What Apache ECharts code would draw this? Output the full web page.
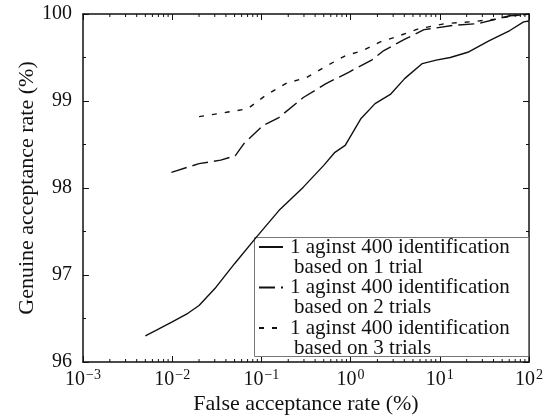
<!DOCTYPE html>
<html>
<head>
<meta charset="utf-8">
<script src="https://cdn.jsdelivr.net/npm/echarts@6/dist/echarts.min.js"></script>
<style>
  html, body { margin: 0; padding: 0; background: #fff; }
  #chart { width: 547px; height: 418px; }
</style>
</head>
<body>
<div id="chart"></div>
<script>
// false acceptance rate (%) / genuine acceptance rate (%) for each curve
const far1 = [0.005, 0.0065, 0.01, 0.015, 0.02, 0.031, 0.05, 0.087, 0.157, 0.295, 0.5, 0.667, 0.87, 1.31, 1.88, 2.82, 4.06, 6.37, 9.1, 13.1, 20.6, 35.5, 61, 87, 100];
const gar1 = [96.30, 96.36, 96.46, 96.56, 96.65, 96.86, 97.13, 97.43, 97.74, 98.01, 98.26, 98.41, 98.49, 98.80, 98.97, 99.08, 99.26, 99.43, 99.47, 99.50, 99.56, 99.69, 99.81, 99.91, 99.92];

const far2 = [0.0098, 0.02, 0.035, 0.0508, 0.0637, 0.105, 0.157, 0.295, 0.53, 0.95, 1.72, 2.36, 4.06, 6.66, 14.3, 27, 42, 61, 87, 100];
const gar2 = [98.18, 98.28, 98.32, 98.37, 98.51, 98.72, 98.81, 99.04, 99.20, 99.33, 99.47, 99.58, 99.71, 99.82, 99.87, 99.89, 99.94, 99.98, 99.99, 100];

const far3 = [0.02, 0.0405, 0.07, 0.11, 0.187, 0.32, 0.51, 0.87, 1.37, 2.15, 3.09, 5.8, 11.5, 22, 42, 67, 100];
const gar3 = [98.82, 98.87, 98.91, 99.06, 99.20, 99.27, 99.39, 99.52, 99.58, 99.68, 99.73, 99.83, 99.89, 99.91, 99.94, 99.98, 100];

const legendLine1 = '1 aginst 400 identification';
const legendLine2 = ['based on 1 trial', 'based on 2 trials', 'based on 3 trials'];
const names = legendLine2.map(s => legendLine1 + '\n' + s);

const yTicks = [96, 97, 98, 99, 100];
// log minor ticks 2..9 in every decade from 1e-3 to 1e2
const xMinor = [
    0.002, 0.003, 0.004, 0.005, 0.006, 0.007, 0.008, 0.009,
    0.02, 0.03, 0.04, 0.05, 0.06, 0.07, 0.08, 0.09,
    0.2, 0.3, 0.4, 0.5, 0.6, 0.7, 0.8, 0.9,
    2, 3, 4, 5, 6, 7, 8, 9,
    20, 30, 40, 50, 60, 70, 80, 90
];

const font = 'Liberation Serif';
const ink = '#111';

function pairs(xs, ys) {
    return xs.map((x, i) => [x, ys[i]]);
}

const chart = echarts.init(document.getElementById('chart'), null, {renderer: 'canvas'});

const tickStyle = {show: true, inside: true, length: 6, lineStyle: {color: ink, width: 1}};
const yMinor = {show: true, splitNumber: 2, length: 3, lineStyle: {color: ink, width: 1}};

let option = {
    backgroundColor: '#ffffff',
    animation: false,
    textStyle: {fontFamily: font, color: ink},
    grid: {left: 83, right: 18, top: 14, bottom: 56, outerBoundsMode: 'none'},
    xAxis: [{
        type: 'log',
        logBase: 10,
        min: 0.001,
        max: 100,
        position: 'bottom',
        name: 'False acceptance rate (%)',
        nameLocation: 'middle',
        nameGap: 31,
        nameMoveOverlap: false,
        nameTextStyle: {fontFamily: font, fontSize: 22, color: ink},
        axisLine: {lineStyle: {color: ink, width: 1.5}},
        axisTick: tickStyle,
        splitLine: {show: false},
        axisLabel: {
            margin: 6,
            fontFamily: font,
            fontSize: 20,
            color: ink,
            formatter: function (v) {
                const e = Math.round(Math.log10(v));
                return '10{sup|' + (e < 0 ? '\u2212' + (-e) : e) + '}';
            },
            rich: {sup: {fontFamily: font, fontSize: 14, color: ink, verticalAlign: 'bottom', padding: [0, 0, 9, 1]}}
        }
    }, {
        type: 'log',
        logBase: 10,
        min: 0.001,
        max: 100,
        position: 'top',
        axisLine: {lineStyle: {color: ink, width: 1.5}},
        axisTick: tickStyle,
        axisLabel: {show: false},
        splitLine: {show: false}
    }],
    yAxis: [{
        type: 'value',
        min: 96,
        max: 100,
        interval: 1,
        position: 'left',
        name: 'Genuine acceptance rate (%)',
        nameLocation: 'middle',
        nameGap: 45,
        nameMoveOverlap: false,
        nameTextStyle: {fontFamily: font, fontSize: 22, color: ink},
        axisLine: {show: true, lineStyle: {color: ink, width: 1.5}},
        axisTick: tickStyle,
        minorTick: yMinor,
        splitLine: {show: false},
        axisLabel: {
            margin: 11,
            fontFamily: font,
            fontSize: 20,
            color: ink,
            formatter: v => (yTicks.indexOf(v) >= 0 ? String(v) : '')
        }
    }, {
        type: 'value',
        min: 96,
        max: 100,
        interval: 1,
        position: 'right',
        axisLine: {show: true, lineStyle: {color: ink, width: 1.5}},
        axisTick: tickStyle,
        minorTick: yMinor,
        axisLabel: {show: false},
        splitLine: {show: false}
    }],
    // legend frame (the legend items sit on top of it)
    graphic: [{
        type: 'rect',
        left: 254,
        top: 237,
        z: 3,
        shape: {width: 274, height: 119},
        style: {fill: '#ffffff', stroke: '#777', lineWidth: 1}
    }],
    legend: {
        orient: 'vertical',
        left: 258,
        top: 217,
        padding: 0,
        itemGap: -20,
        itemWidth: 24,
        itemHeight: 14,
        z: 4,
        data: names,
        itemStyle: {opacity: 0},
        formatter: function (name) {
            const parts = name.split('\n');
            return '{a|' + parts[0] + '}\n{b|' + parts[1] + '}';
        },
        textStyle: {
            fontFamily: font,
            fontSize: 21,
            color: ink,
            lineHeight: 20,
            padding: [20, 0, 0, 2],
            rich: {
                a: {fontFamily: font, fontSize: 21, color: ink, lineHeight: 20},
                b: {fontFamily: font, fontSize: 21, color: ink, lineHeight: 20, padding: [0, 0, 0, 4]}
            }
        }
    },
    series: [{
        name: names[0],
        type: 'line',
        data: pairs(far1, gar1),
        showSymbol: false,
        symbol: 'none',
        lineStyle: {color: ink, width: 1.4, type: 'solid'},
        itemStyle: {color: ink, opacity: 0}
    }, {
        name: names[1],
        type: 'line',
        data: pairs(far2, gar2),
        showSymbol: false,
        symbol: 'none',
        lineStyle: {color: ink, width: 1.4, type: [16, 6]},
        itemStyle: {color: ink, opacity: 0}
    }, {
        name: names[2],
        type: 'line',
        data: pairs(far3, gar3),
        showSymbol: false,
        symbol: 'none',
        lineStyle: {color: ink, width: 1.4, type: [5, 8]},
        itemStyle: {color: ink, opacity: 0}
    }, {
        name: 'minor ticks',
        type: 'custom',
        silent: true,
        clip: false,
        z: 5,
        data: xMinor.map(v => [v, 96]),
        renderItem: function (params, api) {
            const cs = params.coordSys;
            const x = api.coord([api.value(0), 96])[0];
            const st = {stroke: ink, lineWidth: 1};
            return {
                type: 'group',
                children: [
                    {type: 'line', shape: {x1: x, y1: cs.y + cs.height, x2: x, y2: cs.y + cs.height - 3}, style: st},
                    {type: 'line', shape: {x1: x, y1: cs.y, x2: x, y2: cs.y + 3}, style: st}
                ]
            };
        }
    }]
};

chart.setOption(option);
</script>
</body>
</html>
